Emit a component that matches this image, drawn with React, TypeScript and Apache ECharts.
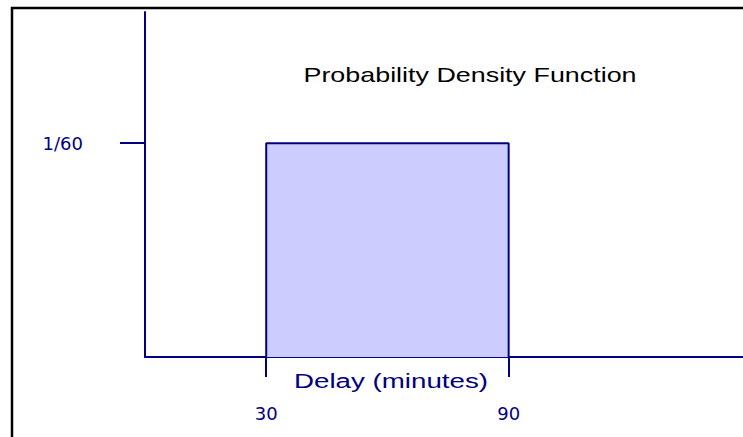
import React, { useEffect, useRef } from 'react';
import * as echarts from 'echarts';

// ---- data ----
const xMin = 0;
const xMax = 148;
const yMax = 0.0269;
const uniformLow = 30;
const uniformHigh = 90;
const density = 1 / 60;
const xTickValues = [30, 90];
const yTickValues = [1 / 60];
const yTickLabels = ['1/60'];
const titleText = 'Probability Density Function';
const xAxisTitle = 'Delay (minutes)';

const NAVY = '#000080';

export default function App() {
  const ref = useRef<HTMLDivElement>(null);
  useEffect(() => {
    if (!ref.current) return;
    const chart = echarts.init(ref.current, null, { renderer: 'svg' });
    const pdfPoints = [
      [uniformLow, 0],
      [uniformLow, density],
      [uniformHigh, density],
      [uniformHigh, 0],
    ];
    chart.setOption({
      animation: false,
      backgroundColor: '#fff',
      grid: { left: 145, right: 0, top: 12, bottom: 80 },
      xAxis: {
        type: 'value',
        min: xMin,
        max: xMax,
        splitLine: { show: false },
        axisLine: { show: true, onZero: false, lineStyle: { color: NAVY, width: 2 } },
        axisTick: {
          show: true,
          inside: false,
          length: 20,
          customValues: xTickValues,
          lineStyle: { color: NAVY, width: 2 },
        },
        axisLabel: {
          show: true,
          customValues: xTickValues,
          margin: 47,
          color: NAVY,
          fontSize: 18,
          fontFamily: 'DejaVu Sans',
        },
      },
      yAxis: {
        type: 'value',
        min: 0,
        max: yMax,
        splitLine: { show: false },
        axisLine: { show: true, onZero: false, lineStyle: { color: NAVY, width: 2 } },
        axisTick: {
          show: true,
          inside: false,
          length: 25,
          customValues: yTickValues,
          lineStyle: { color: NAVY, width: 2 },
        },
        axisLabel: {
          show: true,
          customValues: yTickValues,
          margin: 62,
          color: NAVY,
          fontSize: 18,
          fontFamily: 'DejaVu Sans',
          formatter: (v: number) => {
            const i = yTickValues.findIndex((t) => Math.abs(t - v) < 1e-9);
            return i >= 0 ? yTickLabels[i] : '';
          },
        },
      },
      series: [
        {
          type: 'line',
          data: pdfPoints,
          showSymbol: false,
          symbol: 'none',
          lineStyle: { color: NAVY, width: 2 },
          areaStyle: { color: '#CCCCFF', opacity: 1 },
          z: 1,
        },
      ],
      graphic: [
        {
          type: 'rect',
          shape: { x: 12, y: 8, width: 1000, height: 1000 },
          style: { fill: 'none', stroke: '#000', lineWidth: 2.5 },
          silent: true,
          z: 100,
        },
        {
          type: 'text',
          x: 470,
          y: 75,
          scaleX: 1.28,
          style: {
            text: titleText,
            fontSize: 21,
            fontFamily: 'Liberation Sans',
            fill: '#000',
            textAlign: 'center',
            textVerticalAlign: 'middle',
            align: 'center',
            verticalAlign: 'middle',
          },
          z: 100,
        },
        {
          type: 'text',
          x: 391,
          y: 381,
          scaleX: 1.32,
          style: {
            text: xAxisTitle,
            fontSize: 21,
            fontFamily: 'Liberation Sans',
            fill: NAVY,
            textAlign: 'center',
            textVerticalAlign: 'middle',
            align: 'center',
            verticalAlign: 'middle',
          },
          z: 100,
        },
      ],
    });
    return () => chart.dispose();
  }, []);
  return (
    <div
      ref={ref}
      style={{ position: 'absolute', left: 0, top: 0, width: 743, height: 437 }}
    />
  );
}
